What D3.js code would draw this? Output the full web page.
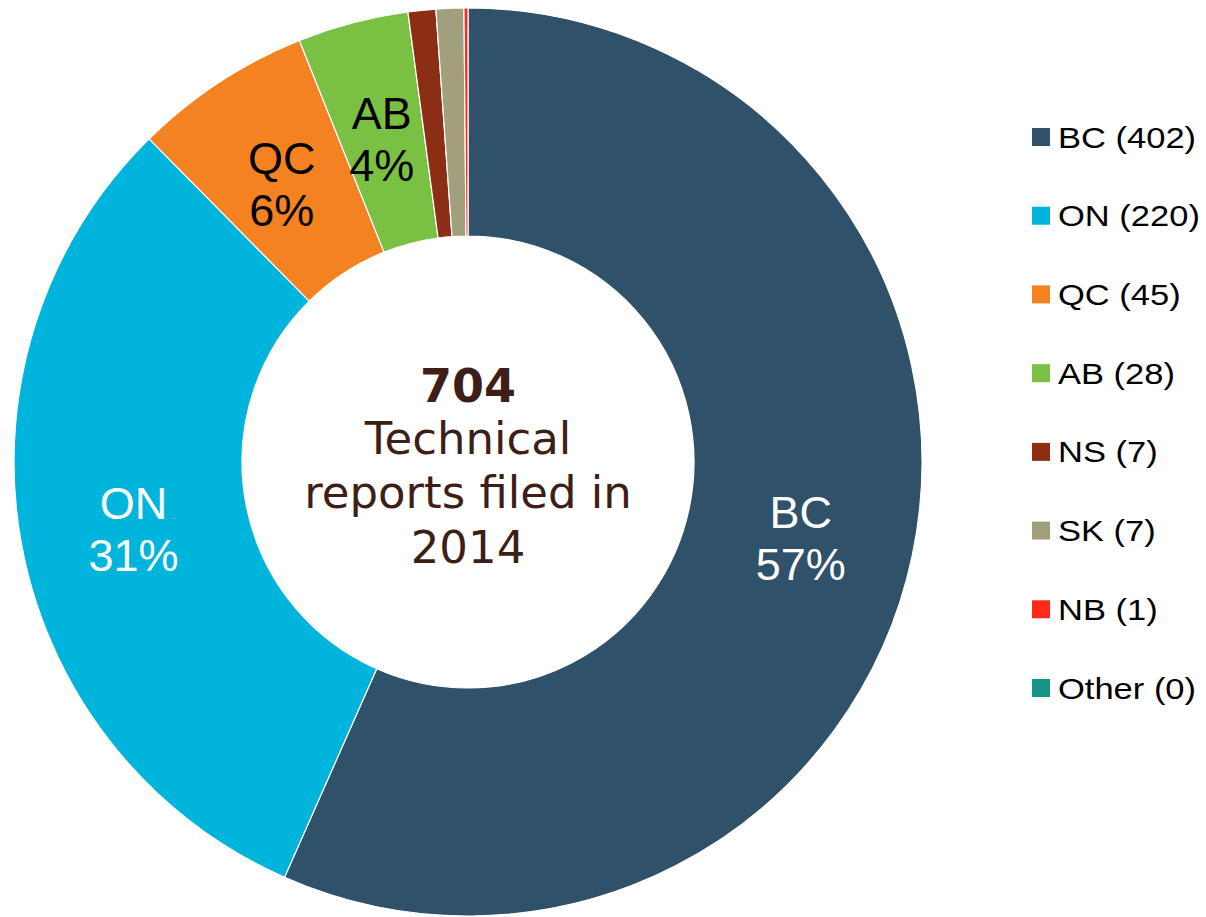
<!DOCTYPE html>
<html>
<head>
<meta charset="utf-8">
<script src="https://cdn.jsdelivr.net/npm/d3@7"></script>
<style>
  html, body { margin: 0; padding: 0; background: #fff; }
  svg { display: block; }
</style>
</head>
<body>
<svg id="chart"></svg>
<script>
const provinces = ["BC", "ON", "QC", "AB", "NS", "SK", "NB", "Other"];
const reports = [402, 220, 45, 28, 7, 7, 1, 0];
const colors = ["#2f5169", "#00b4dc", "#f58220", "#7ac143", "#8b2e14", "#a2a07c", "#ff2a1a", "#149484"];
const labelled = ["BC", "ON", "QC", "AB"];
const labelColors = { BC: "#fff", ON: "#fff", QC: "#000", AB: "#000" };
const centerLines = ["704", "Technical", "reports filed in", "2014"];

const width = 1206;
const height = 917;
const cx = 468, cy = 462;
const outerR = 454, innerR = 226;

const svg = d3.select("#chart")
  .attr("width", width)
  .attr("height", height);

const data = provinces.map((p, i) => ({ name: p, value: reports[i], color: colors[i] }));
const total = d3.sum(reports);

const pie = d3.pie()
  .sort(null)
  .value(d => d.value);

const arc = d3.arc()
  .innerRadius(innerR)
  .outerRadius(outerR);

const g = svg.append("g")
  .attr("transform", `translate(${cx}, ${cy})`);

const arcs = pie(data.filter(d => d.value > 0));

g.selectAll("path")
  .data(arcs)
  .enter()
  .append("path")
  .attr("d", arc)
  .attr("fill", d => d.data.color)
  .attr("stroke", "#fff")
  .attr("stroke-width", 1.2);

// slice labels
const labels = g.selectAll(".slice-label")
  .data(arcs.filter(d => labelled.includes(d.data.name)))
  .enter()
  .append("text")
  .attr("class", "slice-label")
  .attr("transform", d => `translate(${arc.centroid(d)})`)
  .attr("text-anchor", "middle")
  .attr("font-family", "Liberation Sans, Arial, sans-serif")
  .attr("font-size", 45)
  .attr("fill", d => labelColors[d.data.name]);

labels.append("tspan")
  .attr("x", 0)
  .attr("y", -4)
  .text(d => d.data.name);

labels.append("tspan")
  .attr("x", 0)
  .attr("y", 48)
  .text(d => Math.round(d.data.value / total * 100) + "%");

// center text
const centerY = [402, 454, 508, 563];
svg.selectAll(".center-text")
  .data(centerLines)
  .enter()
  .append("text")
  .attr("class", "center-text")
  .attr("x", cx)
  .attr("y", (d, i) => centerY[i])
  .attr("text-anchor", "middle")
  .attr("font-family", "DejaVu Sans, Verdana, sans-serif")
  .attr("font-size", (d, i) => i === 0 ? 46 : 45)
  .attr("font-weight", (d, i) => i === 0 ? "bold" : "normal")
  .attr("fill", "#3d1f17")
  .text(d => d);

// legend
const legendY = d3.scalePoint()
  .domain(provinces)
  .range([137, 688]);

const legend = svg.selectAll(".legend")
  .data(data)
  .enter()
  .append("g")
  .attr("class", "legend")
  .attr("transform", d => `translate(1032, ${legendY(d.name)})`);

legend.append("rect")
  .attr("x", 0)
  .attr("y", -9)
  .attr("width", 18)
  .attr("height", 18)
  .attr("fill", d => d.color);

legend.append("text")
  .attr("transform", "translate(26, 10.5) scale(1.17, 1)")
  .attr("font-family", "Liberation Sans, Arial, sans-serif")
  .attr("font-size", 29.5)
  .attr("fill", "#000")
  .text(d => `${d.name} (${d.value})`);
</script>
</body>
</html>
